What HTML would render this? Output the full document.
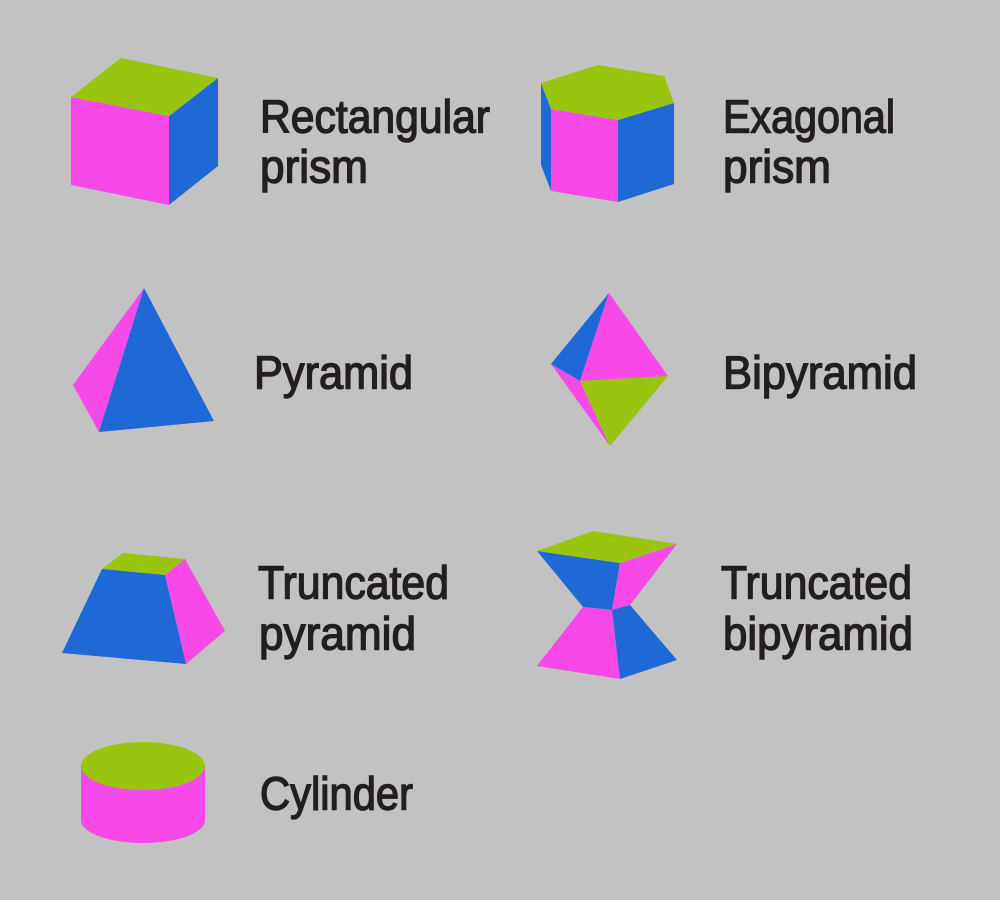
<!DOCTYPE html>
<html><head><meta charset="utf-8"><style>
html,body{margin:0;padding:0;background:#c2c2c2}
svg{display:block}
text{font-family:"Liberation Sans",sans-serif;font-size:46px;fill:#231f20;stroke:#231f20;stroke-width:1.4px}
</style></head><body>
<svg width="1000" height="900" viewBox="0 0 1000 900" xmlns="http://www.w3.org/2000/svg">
<rect width="1000" height="900" fill="#c2c2c2"/>
<!-- Rectangular prism -->
<polygon points="71,97 169,116 169,205 71,185" fill="#f649e8"/>
<polygon points="169,116 218,78 218,166 169,205" fill="#1e69d6"/>
<polygon points="71,97 121,58 218,78 169,116" fill="#9ac50e"/>
<!-- Hexagonal prism -->
<polygon points="541,83 551,109 551,191 541,165" fill="#1e69d6"/>
<polygon points="551,109 618,120 618,202 551,191" fill="#f649e8"/>
<polygon points="618,120 674,103 674,184 618,202" fill="#1e69d6"/>
<polygon points="541,83 598,65 664,76 674,103 618,120 551,109" fill="#9ac50e"/>
<!-- Pyramid -->
<polygon points="144,288 73,385 99,432" fill="#f649e8"/>
<polygon points="144,288 99,432 214,421" fill="#1e69d6"/>
<!-- Bipyramid -->
<polygon points="609,293 551,364 580,381" fill="#1e69d6"/>
<polygon points="609,293 580,381 668,376" fill="#f649e8"/>
<polygon points="551,364 580,381 610,446" fill="#f649e8"/>
<polygon points="580,381 668,376 610,446" fill="#9ac50e"/>
<!-- Truncated pyramid -->
<polygon points="123,553 102,569 165,575 185,559" fill="#9ac50e"/>
<polygon points="102,569 165,575 186,664 62,653" fill="#1e69d6"/>
<polygon points="165,575 185,559 225,631 186,664" fill="#f649e8"/>
<!-- Truncated bipyramid -->
<polygon points="537,551 620,563 612,610 583,607" fill="#1e69d6"/>
<polygon points="620,563 677,544 630,605 612,610" fill="#f649e8"/>
<polygon points="537,551 593,531 677,544 620,563" fill="#9ac50e"/>
<polygon points="583,607 612,610 620,679 537,666" fill="#f649e8"/>
<polygon points="612,610 630,605 677,660 620,679" fill="#1e69d6"/>
<!-- Cylinder -->
<path d="M81,766 V820 C81,833 109,843 143,843 C177,843 205,833 205,820 V766 Z" fill="#f649e8"/>
<ellipse cx="143" cy="766" rx="62" ry="24" fill="#9ac50e"/>
<!-- Labels -->
<text x="260" y="132.5" textLength="230" lengthAdjust="spacingAndGlyphs">Rectangular</text>
<text x="260" y="182.5" textLength="108" lengthAdjust="spacingAndGlyphs">prism</text>
<text x="723" y="132.5" textLength="172" lengthAdjust="spacingAndGlyphs">Exagonal</text>
<text x="723" y="182.5" textLength="108" lengthAdjust="spacingAndGlyphs">prism</text>
<text x="254" y="388.5" textLength="159" lengthAdjust="spacingAndGlyphs">Pyramid</text>
<text x="723" y="388.5" textLength="194" lengthAdjust="spacingAndGlyphs">Bipyramid</text>
<text x="258" y="598.5" textLength="191" lengthAdjust="spacingAndGlyphs">Truncated</text>
<text x="259" y="649.5" textLength="157" lengthAdjust="spacingAndGlyphs">pyramid</text>
<text x="721" y="598.5" textLength="191" lengthAdjust="spacingAndGlyphs">Truncated</text>
<text x="723" y="649.5" textLength="190" lengthAdjust="spacingAndGlyphs">bipyramid</text>
<text x="260" y="809.5" textLength="153" lengthAdjust="spacingAndGlyphs">Cylinder</text>
</svg>
</body></html>
